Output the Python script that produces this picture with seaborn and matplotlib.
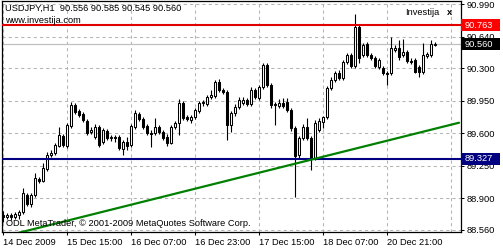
import numpy as np
import pandas as pd
import matplotlib
matplotlib.use("Agg")
import matplotlib.pyplot as plt
import matplotlib.transforms as mtransforms
from matplotlib.patches import Rectangle
import seaborn as sns

# ---------------- data (USDJPY, H1) ----------------
symbol = "USDJPY,H1"
opens = [88.722, 88.700, 88.722, 88.700, 88.722, 88.754, 88.937, 88.840, 88.937, 89.109,
         89.088, 89.217, 89.368, 89.389, 89.465, 89.572, 89.465, 89.680, 89.906, 89.842,
         89.809, 89.734, 89.615, 89.562, 89.669, 89.508, 89.626, 89.551, 89.562, 89.562,
         89.432, 89.508, 89.475, 89.669, 89.809, 89.755, 89.680, 89.605, 89.605, 89.669,
         89.615, 89.562, 89.497, 89.669, 89.712, 89.928, 89.777, 89.745, 89.777, 89.842,
         89.928, 89.917, 89.992, 90.003, 90.154, 90.068, 90.046, 89.691, 89.820, 89.885,
         89.928, 89.960, 89.917, 90.068, 89.982, 90.100, 90.337, 90.122, 89.906, 89.895,
         89.928, 89.939, 89.852, 89.659, 89.368, 89.551, 89.669, 89.551, 89.335, 89.637,
         89.723, 89.777, 90.089, 90.176, 90.251, 90.197, 90.369, 90.445, 90.326, 90.746,
         90.445, 90.563, 90.445, 90.412, 90.316, 90.305, 90.251, 90.251, 90.499, 90.520,
         90.445, 90.477, 90.380, 90.391, 90.316, 90.262, 90.434, 90.445, 90.556]
highs = [88.765, 88.743, 88.743, 88.754, 88.775, 89.012, 88.958, 88.958, 89.174, 89.131,
         89.282, 89.400, 89.422, 89.497, 89.669, 89.594, 89.712, 89.939, 89.928, 89.863,
         89.831, 89.755, 89.669, 89.702, 89.691, 89.659, 89.648, 89.583, 89.583, 89.583,
         89.529, 89.562, 89.702, 89.852, 89.831, 89.777, 89.702, 89.637, 89.766, 89.691,
         89.637, 89.594, 89.691, 89.734, 89.971, 89.949, 89.799, 89.799, 89.874, 89.949,
         89.960, 90.014, 90.068, 90.176, 90.186, 90.089, 90.068, 89.842, 89.917, 89.992,
         89.992, 89.982, 90.100, 90.089, 90.122, 90.359, 90.359, 90.143, 89.939, 89.971,
         89.982, 89.982, 89.874, 89.680, 89.572, 89.702, 89.766, 89.572, 89.745, 89.766,
         89.788, 90.111, 90.208, 90.272, 90.283, 90.391, 90.466, 90.466, 90.886, 90.768,
         90.574, 90.585, 90.466, 90.434, 90.412, 90.326, 90.272, 90.639, 90.552, 90.606,
         90.617, 90.499, 90.412, 90.412, 90.337, 90.574, 90.477, 90.606, 90.585]
lows = [88.646, 88.678, 88.668, 88.678, 88.678, 88.732, 88.818, 88.808, 88.915, 89.066,
        89.077, 89.195, 89.346, 89.368, 89.454, 89.454, 89.443, 89.659, 89.809, 89.777,
        89.723, 89.583, 89.594, 89.540, 89.454, 89.486, 89.529, 89.519, 89.508, 89.422,
        89.368, 89.422, 89.454, 89.648, 89.734, 89.648, 89.583, 89.454, 89.583, 89.594,
        89.529, 89.465, 89.486, 89.648, 89.583, 89.745, 89.734, 89.712, 89.755, 89.820,
        89.895, 89.895, 89.971, 89.982, 90.046, 90.025, 89.529, 89.615, 89.788, 89.863,
        89.906, 89.895, 89.895, 89.971, 89.960, 90.079, 90.100, 89.874, 89.691, 89.874,
        89.874, 89.831, 89.626, 88.915, 89.335, 89.529, 89.529, 89.206, 89.314, 89.615,
        89.659, 89.755, 90.068, 90.154, 90.176, 90.176, 90.348, 90.305, 90.305, 90.359,
        90.423, 90.423, 90.391, 90.305, 90.294, 90.229, 90.122, 90.229, 90.477, 90.391,
        90.423, 90.359, 90.348, 90.251, 90.208, 90.240, 90.412, 90.423, 90.545]
closes = [88.700, 88.722, 88.700, 88.732, 88.754, 88.958, 88.840, 88.937, 89.120, 89.088,
          89.228, 89.368, 89.389, 89.475, 89.583, 89.475, 89.691, 89.906, 89.831, 89.799,
          89.745, 89.605, 89.637, 89.669, 89.475, 89.637, 89.551, 89.562, 89.551, 89.443,
          89.508, 89.465, 89.680, 89.820, 89.755, 89.669, 89.605, 89.594, 89.669, 89.615,
          89.551, 89.497, 89.669, 89.712, 89.928, 89.766, 89.755, 89.777, 89.852, 89.928,
          89.939, 89.992, 90.014, 90.154, 90.068, 90.046, 89.691, 89.820, 89.885, 89.960,
          89.960, 89.917, 90.068, 89.992, 90.100, 90.337, 90.122, 89.906, 89.917, 89.928,
          89.895, 89.852, 89.659, 89.357, 89.551, 89.669, 89.551, 89.335, 89.712, 89.734,
          89.777, 90.089, 90.176, 90.251, 90.197, 90.369, 90.445, 90.326, 90.746, 90.412,
          90.552, 90.445, 90.412, 90.326, 90.391, 90.251, 90.240, 90.520, 90.520, 90.423,
          90.477, 90.380, 90.369, 90.262, 90.262, 90.445, 90.456, 90.563, 90.560]

x_tick_pos = [0, 16, 32, 48, 64, 80, 96]
x_tick_labels = ["14 Dec 2009", "15 Dec 15:00", "16 Dec 07:00", "16 Dec 23:00",
                 "17 Dec 15:00", "18 Dec 07:00", "20 Dec 21:00"]
x_grid_pos = [0, 16, 32, 48, 64, 80, 96, 112]
y_ticks = [88.560, 88.900, 89.250, 89.600, 89.950, 90.300, 90.640, 90.990]
resistance = 90.763
support = 89.327
bid = 90.560
trend_x = [0, 114]
trend_y = [88.487, 89.715]

# ---------------- styling ----------------
sns.set_style("white")
plt.rcParams["font.family"] = ["Liberation Sans", "DejaVu Sans"]
FS = 6.7

W, H = 503, 250
fig = plt.figure(figsize=(W / 100, H / 100), dpi=100, facecolor="white")
ax = fig.add_axes([2 / W, (H - 232) / H, 458.5 / W, 231 / H])
ax.set_facecolor("white")

df = pd.DataFrame({"open": opens, "high": highs, "low": lows, "close": closes})
df["idx"] = np.arange(len(df))
df["bottom"] = df[["open", "close"]].min(axis=1)
df["height"] = (df["close"] - df["open"]).abs()
df["fill"] = np.where(df["close"] >= df["open"], "white", "black")

ax.set_xlim(-0.25, 114.375)
ax.set_ylim(88.538, 91.026)

# grid
for gx in x_grid_pos:
    ax.axvline(gx, color="#b4b4b4", lw=0.75, ls=(0, (3, 3)), zorder=0)
for gy in y_ticks:
    ax.axhline(gy, color="#b4b4b4", lw=0.75, ls=(0, (3, 3)), zorder=0)

# bid line
ax.axhline(bid, color="#c0c0c0", lw=0.9, zorder=1)

# candles
ax.vlines(df["idx"], df["low"], df["high"], color="black", lw=0.8, zorder=2)
ax.bar(df["idx"], df["height"], bottom=df["bottom"], width=0.6,
       color=df["fill"], edgecolor="black", linewidth=0.75, zorder=3)

# horizontal levels
ax.axhline(resistance, color="#e00000", lw=1.5, zorder=4)
ax.axhline(support, color="#000080", lw=1.5, zorder=4)

# trend line
sns.lineplot(x=trend_x, y=trend_y, ax=ax, color="#008000", lw=1.6, zorder=5)

# spines
for s in ax.spines.values():
    s.set_color("black")
    s.set_linewidth(0.9)

# ticks
ax.yaxis.tick_right()
ax.set_yticks(y_ticks)
ax.set_yticklabels([f"{v:.3f}" for v in y_ticks], fontsize=FS, color="black")
ax.set_xticks(x_tick_pos)
ax.set_xticklabels(x_tick_labels, fontsize=FS, color="black", ha="left")
ax.tick_params(axis="y", which="both", right=True, left=False, length=2.5, width=0.75,
               pad=2, direction="out", colors="black")
ax.tick_params(axis="x", which="both", bottom=True, length=2.5, width=0.75,
               pad=2, direction="out", colors="black")
ax.set_xlabel("")
ax.set_ylabel("")

# highlighted price labels on right scale
blend = mtransforms.blended_transform_factory(ax.transAxes, ax.transData)
box_w = 39 / 458.5
box_h = 12 * (91.026 - 88.538) / 231
for val, col in [(resistance, "#ff0000"), (bid, "black"), (support, "#000080")]:
    ax.add_patch(Rectangle((1.0 + 0.6 / 458.5, val - box_h / 2), box_w, box_h,
                           transform=blend, facecolor=col, edgecolor="none",
                           clip_on=False, zorder=10))
    ax.annotate(f"{val:.3f}", xy=(1.0, val), xycoords=blend, xytext=(3.0, 0),
                textcoords="offset points", ha="left", va="center",
                fontsize=FS, color="white", zorder=11, annotation_clip=False)

# texts
header = f"{symbol}  {opens[-1]:.3f} {highs[-1]:.3f} {lows[-1]:.3f} {closes[-1]:.3f}"
fig.text(5 / W, 1 - 8 / H, header, fontsize=FS, color="black", va="center", ha="left")
fig.text(5 / W, 1 - 20.5 / H, "www.investija.com", fontsize=FS, color="black",
         va="center", ha="left")
fig.text(405 / W, 1 - 12.5 / H, "Investija", fontsize=FS, color="black",
         va="center", ha="left")
fig.text(447 / W, 1 - 12.5 / H, "x", fontsize=FS, color="black", fontweight="bold",
         va="center", ha="left")
fig.text(6 / W, 1 - 224 / H, "ODL MetaTrader, \u00a9 2001-2009 MetaQuotes Software Corp.",
         fontsize=FS, color="black", va="center", ha="left")

fig.savefig("out.png", dpi=100, facecolor="white")
